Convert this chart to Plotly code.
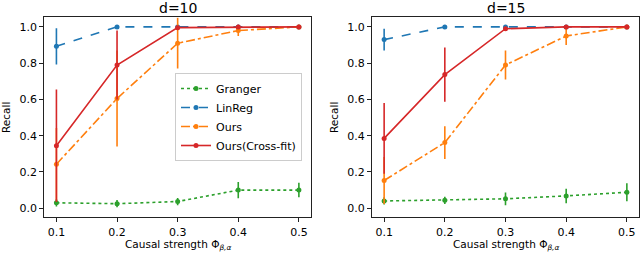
import plotly.graph_objects as go

strength = [0.1, 0.2, 0.3, 0.4, 0.5]
tick_labels = ["0.1", "0.2", "0.3", "0.4", "0.5"]
y_ticks = [0.0, 0.2, 0.4, 0.6, 0.8, 1.0]
y_tick_labels = ["0.0", "0.2", "0.4", "0.6", "0.8", "1.0"]

# d=10 panel
granger_d10 = [0.03, 0.025, 0.037, 0.10, 0.10]
granger_d10_err = [0.02, 0.02, 0.02, 0.045, 0.04]
linreg_d10 = [0.893, 1.0, 1.0, 1.0, 1.0]
linreg_d10_err = [0.10, 0.0, 0.0, 0.0, 0.0]
ours_d10 = [0.243, 0.605, 0.91, 0.98, 1.0]
ours_d10_err = [0.2, 0.265, 0.14, 0.03, 0.0]
cross_d10 = [0.345, 0.79, 0.996, 1.0, 1.0]
cross_d10_err = [0.31, 0.19, 0.01, 0.012, 0.0]

# d=15 panel
granger_d15 = [0.04, 0.044, 0.052, 0.068, 0.088]
granger_d15_err = [0.02, 0.02, 0.035, 0.04, 0.05]
linreg_d15 = [0.93, 1.0, 1.0, 1.0, 1.0]
linreg_d15_err = [0.06, 0.0, 0.0, 0.0, 0.0]
ours_d15 = [0.153, 0.362, 0.79, 0.95, 1.0]
ours_d15_err = [0.13, 0.09, 0.08, 0.05, 0.0]
cross_d15 = [0.385, 0.737, 0.99, 1.0, 1.0]
cross_d15_err = [0.195, 0.15, 0.01, 0.0, 0.0]

names = ["Granger", "LinReg", "Ours", "Ours(Cross-fit)"]
colors = ["#2ca02c", "#1f77b4", "#ff7f0e", "#d62728"]
dashes = ["dot", "dash", "dashdot", "solid"]

W, H = 640, 255
left_dom = [44.3 / W, 311 / W]
right_dom = [372 / W, 639 / W]
y_dom = [1 - 217.3 / H, 1 - 17.3 / H]

fig = go.Figure()

panels = [
    ("x", "y", [granger_d10, linreg_d10, ours_d10, cross_d10],
     [granger_d10_err, linreg_d10_err, ours_d10_err, cross_d10_err], True),
    ("x2", "y2", [granger_d15, linreg_d15, ours_d15, cross_d15],
     [granger_d15_err, linreg_d15_err, ours_d15_err, cross_d15_err], False),
]

for xa, ya, series, errs, show in panels:
    for name, col, dsh, vals, err in zip(names, colors, dashes, series, errs):
        fig.add_trace(go.Scatter(
            x=strength, y=vals, xaxis=xa, yaxis=ya, name=name,
            mode="lines+markers", showlegend=show, cliponaxis=True,
            line=dict(color=col, width=1.6, dash=dsh),
            marker=dict(color=col, size=5),
            error_y=dict(type="data", array=err, visible=True, color=col,
                         thickness=1.6, width=0),
        ))

tickfont = dict(family="DejaVu Sans", size=11, color="black")
axis_common = dict(
    range=[0.08, 0.52], tickvals=strength, ticktext=tick_labels,
    showline=True, linecolor="#222222", linewidth=1, mirror=True,
    ticks="outside", ticklen=4, tickcolor="#222222", showgrid=False,
    zeroline=False, tickfont=tickfont, automargin=False,
)
yaxis_common = dict(
    range=[-0.05, 1.053], tickvals=y_ticks, ticktext=y_tick_labels,
    showline=True, linecolor="#222222", linewidth=1, mirror=True,
    ticks="outside", ticklen=4, tickcolor="#222222", showgrid=False,
    zeroline=False, tickfont=tickfont, automargin=False,
)

xtitle = "Causal strength Φ<sub><i>β,α</i></sub>"
annots = []
for dom, title in [(left_dom, "d=10"), (right_dom, "d=15")]:
    cx = (dom[0] + dom[1]) / 2
    annots.append(dict(text=title, x=cx, y=1 - 7.5 / H, xref="paper", yref="paper",
                       showarrow=False, xanchor="center", yanchor="middle",
                       font=dict(family="DejaVu Sans", size=14, color="black")))
    annots.append(dict(text=xtitle, x=cx, y=1 - 245 / H, xref="paper", yref="paper",
                       showarrow=False, xanchor="center", yanchor="middle",
                       font=dict(family="DejaVu Sans", size=10.5, color="black")))
for xp in [6 / W, 334 / W]:
    annots.append(dict(text="Recall", x=xp, y=1 - 118 / H, xref="paper", yref="paper",
                       showarrow=False, xanchor="center", yanchor="middle", textangle=-90,
                       font=dict(family="DejaVu Sans", size=10.5, color="black")))

fig.update_layout(
    width=W, height=H,
    margin=dict(l=0, r=0, t=0, b=0, autoexpand=False),
    paper_bgcolor="white", plot_bgcolor="white",
    font=dict(family="DejaVu Sans", size=10, color="black"),
    xaxis=dict(domain=left_dom, anchor="y", **axis_common),
    xaxis2=dict(domain=right_dom, anchor="y2", **axis_common),
    yaxis=dict(domain=y_dom, anchor="x", **yaxis_common),
    yaxis2=dict(domain=y_dom, anchor="x2", **yaxis_common),
    legend=dict(x=175 / W, y=1 - 117 / H, xanchor="left", yanchor="middle",
                bgcolor="rgba(255,255,255,0.8)", bordercolor="#cccccc",
                borderwidth=1, font=dict(family="DejaVu Sans", size=11),
                tracegroupgap=0, itemwidth=30),
    annotations=annots,
)

fig.write_html("out.html", config={"displayModeBar": False},
               post_script="document.body.style.margin='0';document.body.style.padding='0';")
